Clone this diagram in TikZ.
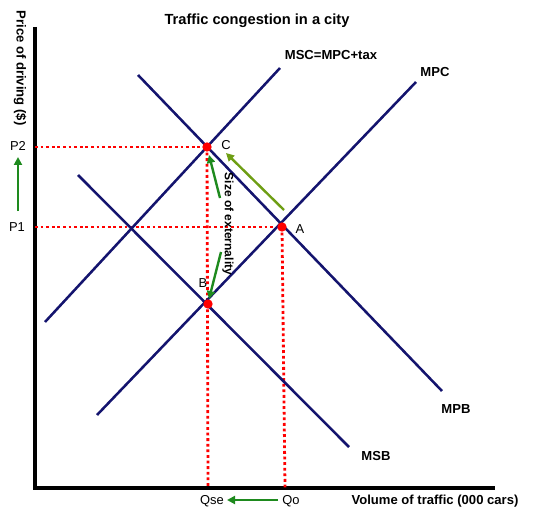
\documentclass[tikz,border=0pt]{standalone}
\usepackage{fontspec}
\setmainfont{Liberation Sans}
\usetikzlibrary{arrows.meta}
\definecolor{navy}{HTML}{14146E}
\definecolor{dgreen}{HTML}{1E8A1E}
\definecolor{olive}{HTML}{6E9E14}
\begin{document}
\begin{tikzpicture}[x=0.75pt,y=-0.75pt,
  curve/.style={navy,line width=1.9pt},
  axis/.style={black,line width=2.3pt},
  guide/.style={red,line width=2.1pt,dash pattern=on 2.1pt off 2.1pt},
  garrow/.style={dgreen,line width=1.8pt,-{Triangle[length=6pt,width=6pt]}},
  oarrow/.style={olive,line width=1.8pt,-{Triangle[length=6pt,width=6pt]}},
  dot/.style={circle,fill=red,inner sep=0pt,minimum size=7pt},
  lbl/.style={font=\fontsize{9.7pt}{11pt}\selectfont},
  blbl/.style={font=\bfseries\fontsize{9.8pt}{11pt}\selectfont}]
\useasboundingbox (0,0) rectangle (541,520);
% axes
\coordinate (O) at (35,488);
\coordinate (Ytop) at (35,27);
\coordinate (Xend) at (495,488);
\draw[axis] (Ytop) -- (O) -- (Xend);
% curve end points
\coordinate (mpb1) at (138,75);  \coordinate (mpb2) at (442,391);
\coordinate (msb1) at (78,175);  \coordinate (msb2) at (349,447);
\coordinate (msc1) at (45,322);  \coordinate (msc2) at (280,68);
\coordinate (mpc1) at (97,415);  \coordinate (mpc2) at (416,82);
% equilibrium points
\coordinate (C) at (207,147);
\coordinate (A) at (282,227);
\coordinate (B) at (208,304);
\coordinate (P2) at (35,147);
\coordinate (P1) at (35,227);
\coordinate (Qse) at (208,488);
\coordinate (Qo) at (285,488);
% dotted guides
\draw[guide] (P2) -- (C);
\draw[guide] (P1) -- (A);
\draw[guide] (C) -- (Qse);
\draw[guide] (A) -- (Qo);
% curves
\draw[curve] (mpb1) -- (mpb2);
\draw[curve] (msb1) -- (msb2);
\draw[curve] (msc1) -- (msc2);
\draw[curve] (mpc1) -- (mpc2);
% dots
\node[dot] (dC) at (C) {};
\node[dot] (dA) at (A) {};
\node[dot] (dB) at (B) {};
% labels
\node[font=\bfseries\fontsize{11pt}{13pt}\selectfont] (title) at (257,21) {Traffic congestion in a city};
\node[blbl,rotate=-90] (ylab) at (20,68) {Price of driving (\$)};
\node[blbl] (xlab) at (435,501) {Volume of traffic (000 cars)};
\node[blbl] (lmsc) at (331,55) {MSC=MPC+tax};
\node[blbl] (lmpc) at (435,72) {MPC};
\node[blbl] (lmpb) at (456,409) {MPB};
\node[blbl] (lmsb) at (376,456) {MSB};
\node[lbl] (lC) at (226,145) {C};
\node[lbl] (lA) at (300,229) {A};
\node[lbl] (lB) at (203,283) {B};
\node[lbl] (lP2) at (18,146) {P2};
\node[lbl] (lP1) at (17,227) {P1};
\node[lbl] (lQse) at (212,501) {Qse};
\node[lbl] (lQo) at (291,501) {Qo};
\node[font=\bfseries\fontsize{9pt}{11pt}\selectfont,rotate=-90] (ext) at (228,224) {Size of externality};
% arrows
\coordinate (pa1) at (18,211); \coordinate (pa2) at (18,157);
\draw[garrow] (pa1) -- (pa2);
\coordinate (qa1) at (278,500); \coordinate (qa2) at (227,500);
\draw[garrow] (qa1) -- (qa2);
\coordinate (ac1) at (284,210); \coordinate (ac2) at (226,153);
\draw[oarrow] (ac1) -- (ac2);
\coordinate (e1) at (220,198); \coordinate (e2) at (209,155);
\draw[garrow] (e1) -- (e2);
\coordinate (e3) at (221,252); \coordinate (e4) at (209,299);
\draw[garrow] (e3) -- (e4);
\end{tikzpicture}
\end{document}
